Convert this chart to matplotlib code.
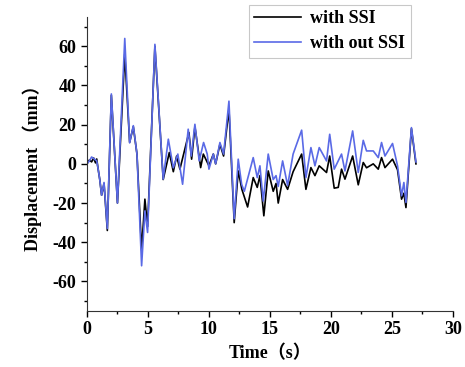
import numpy as np
import matplotlib.pyplot as plt
from matplotlib.ticker import MultipleLocator

# Временные точки и перемещения (мм)
t_ssi = [0.0, 0.2, 0.38, 0.55, 0.7, 0.8, 0.9, 1.05, 1.2, 1.4, 1.67, 2.0, 2.5, 3.1,
         3.5, 3.8, 4.1, 4.48, 4.75, 4.97, 5.57, 6.25, 6.75, 7.08, 7.35, 7.62, 8.36,
         8.58, 8.85, 9.32, 9.54, 10.0, 10.36, 10.55, 10.9, 11.2, 11.64, 12.07, 12.4,
         12.7, 13.17, 13.63, 13.96, 14.18, 14.5, 14.86, 15.27, 15.5, 15.68, 16.04,
         16.45, 16.9, 17.6, 17.95, 18.36, 18.69, 19.04, 19.64, 19.9, 20.27, 20.6,
         20.87, 21.15, 21.78, 22.24, 22.65, 22.92, 23.47, 23.88, 24.15, 24.43, 25.05,
         25.46, 25.79, 25.98, 26.15, 26.6, 26.97]
d_ssi = [0.0, 2.0, 1.0, 3.0, 0.5, 2.5, -2.0, -8.0, -16.0, -10.0, -34.0, 35.0, -20.0, 56.0,
         11.0, 19.0, 5.0, -44.0, -18.0, -32.0, 60.0, -8.0, 5.8, -4.0, 4.0, -2.7, 16.0,
         2.4, 19.0, -1.9, 5.0, -1.0, 5.0, 0.0, 10.0, 4.0, 28.0, -30.0, -3.6,
         -13.0, -22.0, -7.0, -12.0, -6.0, -26.5, -3.6, -14.0, -10.0, -20.0, -8.0,
         -13.0, -4.0, 5.0, -13.0, -1.9, -6.0, -1.0, -4.4, 4.0, -12.4, -12.0,
         -2.7, -7.8, 4.0, -10.7, 0.7, -2.0, 0.0, -2.7, 3.2, -1.9, 2.4,
         -3.0, -18.0, -15.0, -22.3, 18.0, 0.0]

t_nossi = [0.0, 0.2, 0.38, 0.6, 0.8, 0.9, 1.05, 1.2, 1.4, 1.67, 2.0, 2.5, 3.1,
           3.5, 3.8, 4.1, 4.48, 4.75, 4.97, 5.57, 6.25, 6.67, 7.08, 7.45, 7.84, 8.3,
           8.55, 8.85, 9.2, 9.56, 9.86, 10.0, 10.36, 10.55, 10.9, 11.2, 11.64, 12.07,
           12.4, 12.68, 12.9, 13.63, 13.96, 14.18, 14.45, 14.86, 15.27, 15.5, 15.68,
           16.04, 16.45, 16.9, 17.6, 17.95, 18.36, 18.69, 19.04, 19.64, 19.9, 20.27,
           20.87, 21.15, 21.78, 22.24, 22.65, 22.92, 23.47, 23.88, 24.15, 24.43, 25.05,
           25.46, 25.79, 25.98, 26.15, 26.6, 26.97]
d_nossi = [0.0, 1.5, 3.5, 2.5, 1.5, -2.0, -8.0, -16.0, -9.5, -33.0, 35.7, -20.0, 64.0,
           10.7, 19.5, 5.0, -52.0, -24.0, -35.0, 61.0, -7.8, 12.6, -2.0, 5.0, -10.4, 17.7,
           4.0, 20.2, 1.5, 10.9, 5.0, -2.7, 5.0, 0.0, 10.9, 5.0, 32.0, -28.0,
           2.4, -10.4, -14.0, 3.2, -7.0, -1.0, -19.0, 5.0, -8.0, -6.0, -11.5,
           1.5, -11.0, 5.0, 17.2, -7.0, 8.3, -1.0, 8.3, 1.5, 15.1, -2.7,
           5.0, -3.6, 16.8, -4.4, 12.0, 6.6, 6.6, 3.2, 10.9, 4.0, 10.4,
           -1.0, -16.3, -9.5, -19.7, 18.5, 1.0]

x_ticks = [0, 5, 10, 15, 20, 25, 30]
y_ticks = [-60, -40, -20, 0, 20, 40, 60]

plt.rcParams['font.family'] = ['Liberation Serif', 'Noto Sans CJK SC']
plt.rcParams['font.weight'] = 'bold'
plt.rcParams['axes.unicode_minus'] = False

fig = plt.figure(figsize=(4.65, 3.67), dpi=100)
ax = fig.add_axes([0.187, 0.153, 0.787, 0.801])

ax.plot(t_ssi, d_ssi, color='black', lw=1.2, label='with SSI')
ax.plot(t_nossi, d_nossi, color='#5a6ae6', lw=1.2, label='with out SSI')

ax.set_xlim(0, 30)
ax.set_ylim(-75, 75)
ax.set_xticks(x_ticks)
ax.set_yticks(y_ticks)
ax.xaxis.set_minor_locator(MultipleLocator(2.5))
ax.yaxis.set_minor_locator(MultipleLocator(10))
ax.tick_params(which='major', direction='out', length=4, width=1, labelsize=13)
ax.tick_params(which='minor', direction='out', length=2.5, width=1)
for lbl in ax.get_xticklabels() + ax.get_yticklabels():
    lbl.set_fontweight('bold')

ax.spines['top'].set_visible(False)
ax.spines['right'].set_visible(False)
ax.spines['left'].set_color('#333333')
ax.spines['bottom'].set_color('#333333')

ax.set_xlabel('Time（s）', fontsize=13, fontweight='bold', labelpad=5)
ax.set_ylabel('Displacement （mm）', fontsize=13, fontweight='bold', labelpad=8)

leg = fig.legend(loc='upper right', bbox_to_anchor=(0.883, 0.987), fontsize=13,
                 frameon=True, fancybox=False, edgecolor='#bbbbbb',
                 handlelength=2.6, borderpad=0.3, labelspacing=0.45,
                 handletextpad=0.5, borderaxespad=0)
leg.get_frame().set_linewidth(0.8)
for txt in leg.get_texts():
    txt.set_fontweight('bold')

fig.savefig('out.png', dpi=100)
